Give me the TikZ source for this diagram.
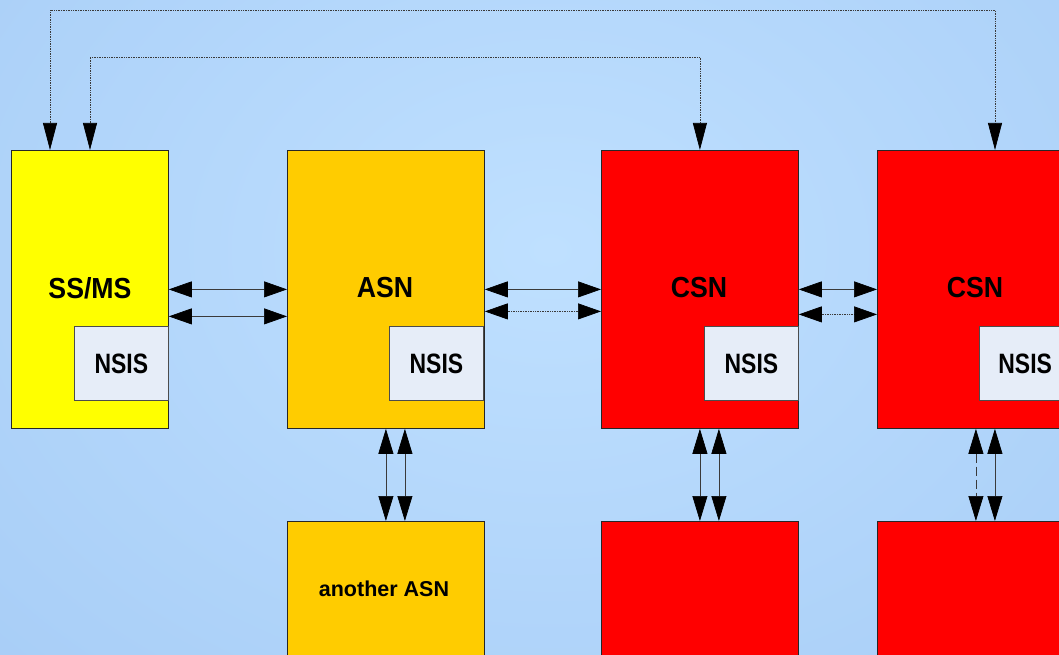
\documentclass[tikz,border=0pt]{standalone}
\usepackage{fontspec}
\usetikzlibrary{arrows.meta,calc}
\newfontfamily\bigf[FakeStretch=0.92]{Liberation Sans}
\newfontfamily\nsisf[FakeStretch=0.82]{Liberation Sans}
\newfontfamily\smallf{Liberation Sans}
\definecolor{bgin}{HTML}{BFE0FF}
\definecolor{bgout}{HTML}{A6CCF6}
\definecolor{ssyel}{HTML}{FFFF00}
\definecolor{asnor}{HTML}{FFCC00}
\definecolor{csnred}{HTML}{FF0000}
\definecolor{nsisbg}{HTML}{E6EDF8}
\definecolor{linec}{HTML}{3A3A3A}
\tikzset{
  box/.style={draw=black!85, line width=0.8pt, anchor=north west, inner sep=0pt,
              minimum width=197pt, minimum height=278pt},
  nsisbox/.style={draw=black!70, line width=0.8pt, fill=nsisbg, anchor=north west,
              minimum width=94pt, minimum height=74pt, inner sep=0pt,
              font=\nsisf\bfseries\fontsize{28}{30}\selectfont},
  biglabel/.style={font=\bigf\bfseries\fontsize{29}{31}\selectfont, inner sep=0pt},
  conn/.style={draw=linec, line width=0.7pt},
  htips/.style={{Triangle[length=23pt,width=16pt,color=black]}-{Triangle[length=23pt,width=16pt,color=black]}},
  vtips/.style={{Triangle[length=25pt,width=15pt,color=black]}-{Triangle[length=25pt,width=15pt,color=black]}},
  ttips/.style={{Triangle[length=27pt,width=14pt,color=black]}-{Triangle[length=27pt,width=14pt,color=black]}},
}
\begin{document}
\begin{tikzpicture}[x=1pt,y=-1pt]
\useasboundingbox (0,0) rectangle (1059,655);
\clip (0,0) rectangle (1059,655);
\shade[inner color=bgin, outer color=bgout] (-300,-400) rectangle (1400,900);

% main boxes
\node[box, fill=ssyel, minimum width=157pt] (ss) at (11,150) {};
\node[box, fill=asnor] (asn) at (287,150) {};
\node[box, fill=csnred] (csn) at (601,150) {};
\node[box, fill=csnred] (csnb) at (877,150) {};
% bottom boxes
\node[box, fill=asnor] (asn2) at (287,521) {};
\node[box, fill=csnred] (csn2) at (601,521) {};
\node[box, fill=csnred] (csnb2) at (877,521) {};

% labels
\node[biglabel] (lss) at (90,288) {SS/MS};
\node[biglabel] (lasn) at (385,288) {ASN};
\node[biglabel] (lcsn) at (699,288) {CSN};
\node[biglabel] (lcsnb) at (975,288) {CSN};
\node[font=\smallf\bfseries\fontsize{21.5}{24}\selectfont, inner sep=0pt] (lasn2) at (384,589) {another ASN};

% NSIS boxes
\node[nsisbox] (n1) at (74,326) {NSIS};
\node[nsisbox] (n2) at (389,326) {NSIS};
\node[nsisbox] (n3) at (704,326) {NSIS};
\node[nsisbox, text width=80pt, align=left] (n4) at (979,326) {\hspace*{12pt}NSIS};

% horizontal connectors
\draw[conn, htips] (ss.east) -- (asn.west);
\draw[conn, htips] ([yshift=-27pt]ss.east) -- ([yshift=-27pt]asn.west);
\draw[conn, htips] (asn.east) -- (csn.west);
\draw[conn, htips, densely dotted] ([yshift=-22pt]asn.east) -- ([yshift=-22pt]csn.west);
\draw[conn, htips] (csn.east) -- (csnb.west);
\draw[conn, htips, densely dotted] ([yshift=-25pt]csn.east) -- ([yshift=-25pt]csnb.west);

% vertical connectors
\draw[conn, vtips] (asn.south) -- (asn2.north);
\draw[conn, vtips] ([xshift=19pt]asn.south) -- ([xshift=19pt]asn2.north);
\draw[conn, vtips] (csn.south) -- (csn2.north);
\draw[conn, vtips] ([xshift=19pt]csn.south) -- ([xshift=19pt]csn2.north);
\draw[conn, vtips, dash pattern=on 9pt off 4pt] (csnb.south) -- (csnb2.north);
\draw[conn, vtips] ([xshift=19pt]csnb.south) -- ([xshift=19pt]csnb2.north);

% top connectors
\coordinate (o1) at (50,10);
\coordinate (o2) at (995,10);
\coordinate (i1) at (90,57);
\draw[conn, ttips, densely dotted] (ss.north -| o1) -- (o1) -- (o2) -- (csnb.north -| o2);
\draw[conn, ttips, densely dotted] (ss.north -| i1) -- (i1) -| (csn.north);
\end{tikzpicture}
\end{document}
